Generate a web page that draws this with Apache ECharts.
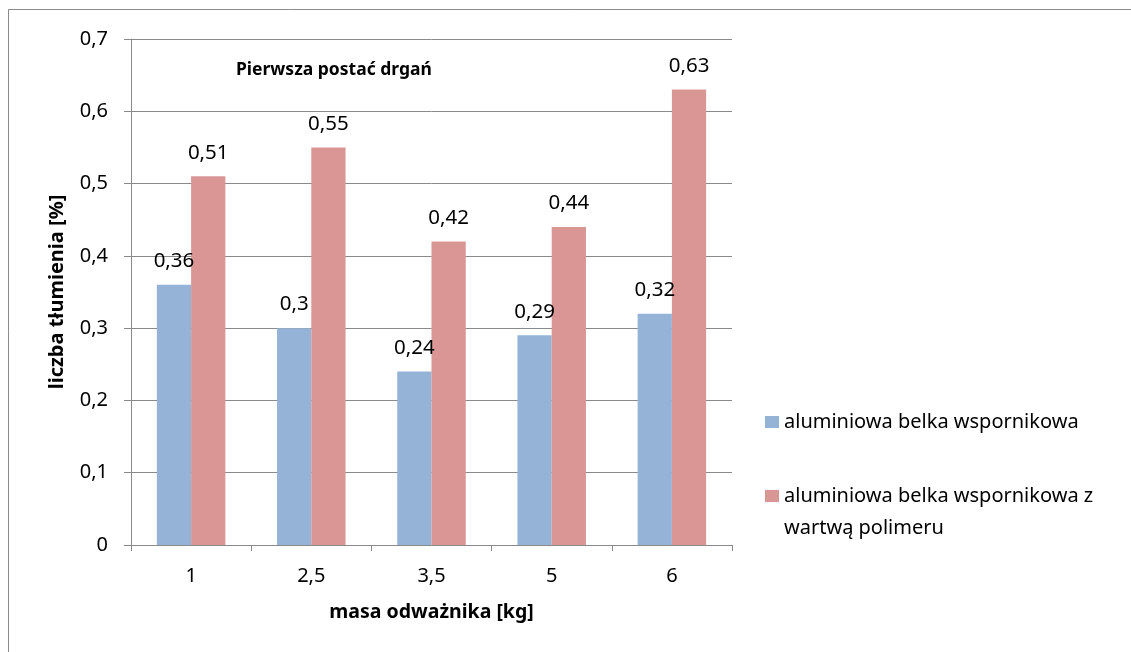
<!DOCTYPE html>
<html><head><meta charset="utf-8">
<script src="https://cdn.jsdelivr.net/npm/echarts@6/dist/echarts.min.js"></script>
<style>html,body{margin:0;padding:0;background:#fff}#c{width:1131px;height:652px}</style>
</head><body><div id="c"></div>
<script>
const categories = ['1', '2,5', '3,5', '5', '6'];
const seriesAlu = [0.36, 0.30, 0.24, 0.29, 0.32];
const seriesPoly = [0.51, 0.55, 0.42, 0.44, 0.63];
const seriesNames = ['aluminiowa belka wspornikowa', 'aluminiowa belka wspornikowa z wartwą polimeru'];
const yTicks = [0, 0.1, 0.2, 0.3, 0.4, 0.5, 0.6, 0.7];

const FONT = 'Noto Sans';
const fmt = v => String(Math.round(v * 100) / 100).replace('.', ',');
const chart = echarts.init(document.getElementById('c'), null, {renderer: 'canvas'});
chart.setOption({
  animation: false,
  backgroundColor: '#fff',
  textStyle: {fontFamily: FONT},
  graphic: [{type: 'rect', silent: true, shape: {x: 8.5, y: 9.5, width: 1200, height: 700}, style: {fill: 'none', stroke: '#8a8a8a', lineWidth: 1}}],
  title: {text: 'Pierwsza postać drgań', left: 236, top: 61, padding: 0, textStyle: {fontFamily: FONT, fontSize: 17.5, fontWeight: 'bold', color: '#000'}},
  legend: [
    {data: [seriesNames[0]], orient: 'vertical', left: 765, top: 410, padding: 0, itemWidth: 14, itemHeight: 12, icon: 'rect',
     textStyle: {fontFamily: FONT, fontSize: 20, color: '#000', lineHeight: 24}, itemGap: 0, selectedMode: false},
    {data: [seriesNames[1]], orient: 'vertical', left: 765, top: 486, padding: 0, itemWidth: 14, itemHeight: 12, icon: 'rect', selectedMode: false,
     formatter: () => '{a|aluminiowa belka wspornikowa z}\n{a|wartwą polimeru}',
     textStyle: {fontFamily: FONT, fontSize: 20, color: '#000', padding: [32, 0, 0, 0], rich: {a: {fontFamily: FONT, fontSize: 20, lineHeight: 32, color: '#000'}}}}
  ],
  grid: {left: 131, top: 39, right: 399, bottom: 107, containLabel: false},
  xAxis: {
    type: 'category', data: categories,
    name: 'masa odważnika [kg]', nameLocation: 'middle', nameGap: 57,
    nameTextStyle: {fontFamily: FONT, fontSize: 19.5, fontWeight: 'bold', color: '#000'},
    axisLine: {lineStyle: {color: '#8a8a8a', width: 1}},
    axisTick: {show: true, alignWithLabel: false, length: 6, lineStyle: {color: '#8a8a8a'}},
    axisLabel: {margin: 21, fontFamily: FONT, fontSize: 20, color: '#000'}
  },
  yAxis: {
    type: 'value', min: 0, max: 0.7, interval: 0.1,
    name: 'liczba tłumienia [%]', nameLocation: 'middle', nameGap: 64, nameRotate: 90,
    nameTextStyle: {fontFamily: FONT, fontSize: 20, fontWeight: 'bold', color: '#000'},
    axisLine: {show: true, lineStyle: {color: '#8a8a8a', width: 1}},
    axisTick: {show: true, inside: false, length: 7, lineStyle: {color: '#8a8a8a'}},
    axisLabel: {margin: 23, fontFamily: FONT, fontSize: 20, color: '#000', formatter: v => fmt(v)},
    splitLine: {show: true, lineStyle: {color: '#8a8a8a', width: 1}}
  },
  series: [
    {name: seriesNames[0], type: 'bar', data: seriesAlu, barGap: '0%', barCategoryGap: '43%',
     itemStyle: {color: '#95B3D7'},
     label: {show: true, position: 'top', distance: 13, fontFamily: FONT, fontSize: 20.5, color: '#000', formatter: p => fmt(p.value)}},
    {name: seriesNames[1], type: 'bar', data: seriesPoly, barGap: '0%', barCategoryGap: '43%',
     itemStyle: {color: '#D99694'},
     label: {show: true, position: 'top', distance: 13, fontFamily: FONT, fontSize: 20.5, color: '#000', formatter: p => fmt(p.value)}}
  ]
});
</script></body></html>
